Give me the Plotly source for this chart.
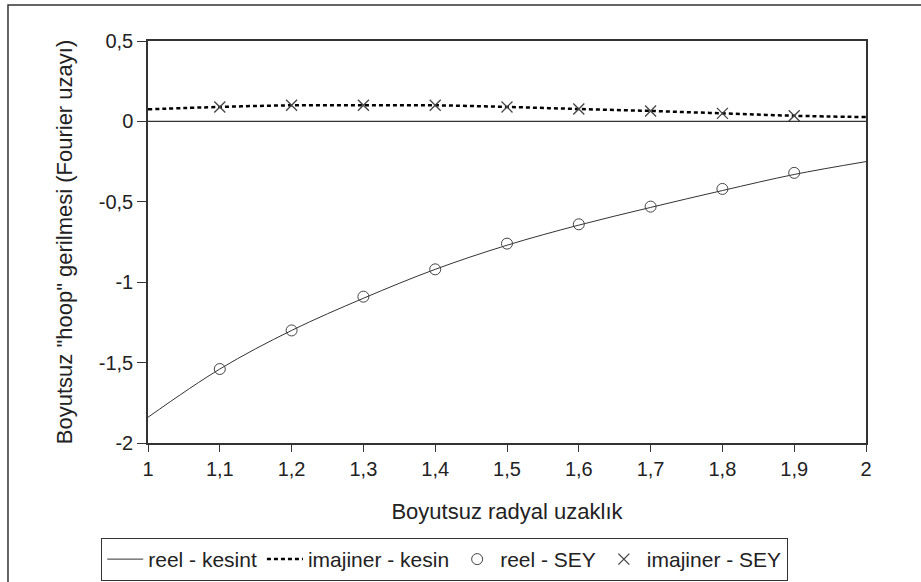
import plotly.graph_objects as go

x_line = [1.0, 1.1, 1.2, 1.3, 1.4, 1.5, 1.6, 1.7, 1.8, 1.9, 2.0]
reel_kesint = [-1.84, -1.54, -1.30, -1.10, -0.92, -0.77, -0.645, -0.535, -0.43, -0.33, -0.25]
imaj_kesin = [0.075, 0.09, 0.10, 0.10, 0.10, 0.09, 0.077, 0.065, 0.05, 0.035, 0.027]

x_sey = [1.1, 1.2, 1.3, 1.4, 1.5, 1.6, 1.7, 1.8, 1.9]
reel_sey = [-1.54, -1.30, -1.09, -0.92, -0.76, -0.64, -0.53, -0.42, -0.32]
imaj_sey = [0.09, 0.10, 0.10, 0.10, 0.09, 0.077, 0.065, 0.05, 0.035]

x_ticks = [1.0, 1.1, 1.2, 1.3, 1.4, 1.5, 1.6, 1.7, 1.8, 1.9, 2.0]
x_labels = ["1", "1,1", "1,2", "1,3", "1,4", "1,5", "1,6", "1,7", "1,8", "1,9", "2"]
y_ticks = [0.5, 0, -0.5, -1, -1.5, -2]
y_labels = ["0,5", "0", "-0,5", "-1", "-1,5", "-2"]

fig = go.Figure()
fig.add_trace(go.Scatter(x=x_line, y=reel_kesint, mode="lines", name="reel - kesint",
                         line=dict(color="#333333", width=1, shape="spline")))
fig.add_trace(go.Scatter(x=x_line, y=imaj_kesin, mode="lines", name="imajiner - kesin",
                         line=dict(color="black", width=2.5, dash="4px,3px", shape="spline")))
fig.add_trace(go.Scatter(x=x_sey, y=reel_sey, mode="markers", name="reel - SEY",
                         marker=dict(symbol="circle-open", size=11, color="#444444", line=dict(width=1))))
fig.add_trace(go.Scatter(x=x_sey, y=imaj_sey, mode="markers", name="imajiner - SEY",
                         marker=dict(symbol="x-thin-open", size=11, color="#444444", line=dict(width=1.3))))

fig.add_shape(type="line", xref="x", yref="y", x0=1, x1=2, y0=0, y1=0,
              line=dict(color="#333333", width=1.2))
fig.add_shape(type="rect", xref="paper", yref="paper", x0=-0.195, x1=1.3, y0=-0.5, y1=1.0896,
              line=dict(color="#333333", width=1.5))

fig.update_layout(
    width=921, height=582,
    margin=dict(l=148, r=55, t=41, b=139, autoexpand=False),
    paper_bgcolor="white", plot_bgcolor="white",
    font=dict(family="Liberation Sans, Arial, sans-serif", size=20, color="#222222"),
    showlegend=True,
    legend=dict(orientation="h", xref="container", yref="container",
                x=0.1097, xanchor="left", y=0.076, yanchor="top",
                bordercolor="#333333", borderwidth=1.2, font=dict(size=21),
                itemwidth=36, tracegroupgap=0),
    xaxis=dict(range=[1, 2], tickvals=x_ticks, ticktext=x_labels, showgrid=False, zeroline=False,
               showline=True, linecolor="#333333", linewidth=1.5, mirror=True,
               ticks="outside", ticklen=7, tickcolor="#333333", tickfont=dict(size=20),
               title=dict(text="Boyutsuz radyal uzaklık", standoff=25, font=dict(size=22))),
    yaxis=dict(range=[-2, 0.5], tickvals=y_ticks, ticktext=y_labels, showgrid=False, zeroline=False,
               showline=True, linecolor="#333333", linewidth=1.5, mirror=True,
               ticks="outside", ticklen=9, tickcolor="#333333", tickfont=dict(size=20),
               title=dict(text='Boyutsuz "hoop" gerilmesi (Fourier uzayı)', standoff=20, font=dict(size=22))),
)

fig.write_html("out.html", config={"displayModeBar": False},
               post_script="document.body.style.margin='0';")
